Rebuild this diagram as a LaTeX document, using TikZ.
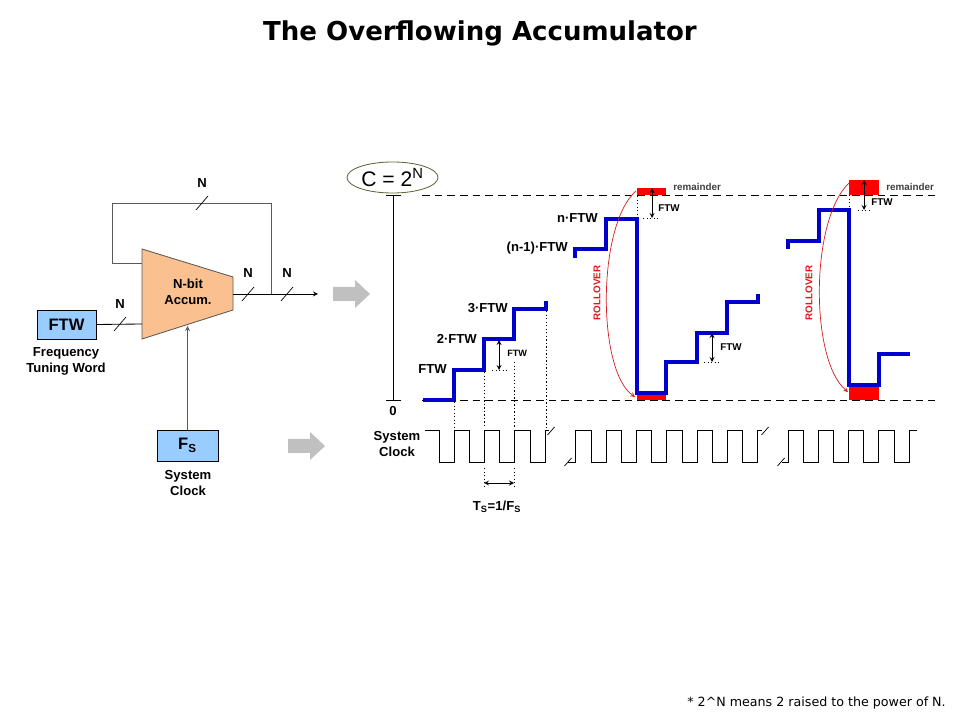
\documentclass[tikz,border=0pt]{standalone}
\usepackage{fontspec}
\setmainfont{Liberation Sans}
\newfontfamily\verdana{DejaVu Sans}
\usetikzlibrary{shapes.geometric}

\definecolor{azulftw}{RGB}{153,204,255}
\definecolor{melocoton}{RGB}{250,192,144}
\definecolor{grisflecha}{RGB}{192,192,192}
\definecolor{azulesc}{RGB}{0,0,204}
\definecolor{rojoroll}{RGB}{215,30,30}
\definecolor{oliva}{RGB}{95,105,55}
\definecolor{grislinea}{RGB}{90,90,90}

\tikzset{
  lbl/.style={font=\fontsize{9.3}{11.3}\selectfont\bfseries, inner sep=0pt},
  chico/.style={font=\fontsize{7}{8}\selectfont\bfseries, inner sep=0pt},
  caja/.style={draw=black, fill=azulftw, minimum width=1.475cm, minimum height=0.725cm,
    inner sep=0pt, font=\fontsize{11.8}{13}\selectfont\bfseries},
  escalera/.style={azulesc, line width=2.2pt},
  fino/.style={line width=0.6pt},
  punteado/.style={line width=0.5pt, dash pattern=on 1pt off 1.5pt},
  rayas/.style={line width=0.6pt, dash pattern=on 5.5pt off 3.5pt},
  bus/.pic={\draw[line width=0.5pt] (-6,7) -- (6,-7);},
  corte/.pic={\draw[line width=0.5pt] (-3.5,4) -- (3.5,-4);},
  flechagris/.pic={\fill[grisflecha] (0,-7) -- (22,-7) -- (22,-14) -- (37,0) -- (22,14) -- (22,7) -- (0,7) -- cycle;},
}

\begin{document}
\begin{tikzpicture}[>=stealth, x=0.025cm, y=-0.025cm]
  \useasboundingbox[fill=white] (0,0) rectangle (960,720);

  % Titulo
  \node[font=\verdana\fontsize{18.5}{22}\selectfont\bfseries] (titulo) at (480,33) {The Overflowing Accumulator};

  % Acumulador
  \filldraw[fill=melocoton, draw=grislinea, fino] (142,249) -- (233,277) -- (233,310) -- (142,339) -- cycle;
  \node[lbl, align=center] (accum) at (188,292) {N-bit\\Accum.};
  \coordinate (acc-in) at (142,324);
  \coordinate (acc-fb) at (142,263);
  \coordinate (acc-out) at (233,294);
  \coordinate (acc-clk) at (187.5,326);
  \coordinate (nodo) at (271,294);
  \coordinate (salida) at (318,294);

  % Entradas
  \node[caja] (ftw) at (66.5,324.5) {FTW};
  \node[lbl, align=center] (ftw-txt) at (66,361) {Frequency\\Tuning Word};
  \node[caja, minimum width=1.525cm, minimum height=0.775cm] (fs) at (187.5,445.5) {F\textsubscript{S}};
  \node[lbl, align=center] (fs-txt) at (188,483) {System\\Clock};

  % Conexiones
  \draw[fino] (ftw.east) -- (acc-in);
  \draw[fino, grislinea] (nodo) |- (112,203) |- (acc-fb);
  \draw[fino, ->] (acc-out) -- (salida);
  \draw[fino, grislinea, ->] (fs.north) -- (acc-clk);
  \pic at (202,203) {bus};
  \pic at (120,324) {bus};
  \pic at (248,294) {bus};
  \pic at (287,294) {bus};
  \node[lbl] (n-lazo) at (202,183) {N};
  \node[lbl] (n-ftw) at (120,304) {N};
  \node[lbl] (n-acc) at (248,273) {N};
  \node[lbl] (n-sal) at (287,273) {N};

  % Flechas grises
  \pic at (333,294) {flechagris};
  \pic at (288,446) {flechagris};

  % Eje y limites
  \node[ellipse, draw=oliva, fill=white, fino, minimum width=2.275cm, minimum height=0.775cm,
    inner sep=0pt, font=\fontsize{15}{17}\selectfont] (cmax) at (392.5,177.5) {C = 2\textsuperscript{N}};
  \draw[fino] (393,195) -- (393,400);
  \draw[fino] (386,195) -- (401,195);
  \draw[fino] (386,400) -- (401,400);
  \node[lbl] (cero) at (393,411) {0};
  \draw[rayas] (422,195) -- (935,195);
  \draw[rayas] (422,400) -- (935,400);

  % Restos
  \fill[red] (637,188) rectangle (666,195);
  \fill[red] (637,395) rectangle (666,400);
  \fill[red] (849,180) rectangle (879,195);
  \fill[red] (849,387) rectangle (879,400);

  % Escaleras
  \draw[escalera] (423,400) -- (454,400) -- (454,370) -- (484,370) -- (484,339) -- (514,339)
    -- (514,309) -- (546,309) -- (546,301);
  \draw[escalera] (575,258) -- (575,249) -- (606,249) -- (606,219) -- (637,219) -- (637,393)
    -- (666,393) -- (666,362) -- (697,362) -- (697,333) -- (727,333) -- (727,302) -- (758,302) -- (758,294);
  \draw[escalera] (788,249) -- (788,241) -- (819,241) -- (819,210) -- (849,210) -- (849,385)
    -- (879,385) -- (879,354) -- (910,354);

  % Etiquetas de nivel
  \node[lbl, anchor=east] (n1) at (447,369) {FTW};
  \node[lbl, anchor=east] (n2) at (477,339) {2·FTW};
  \node[lbl, anchor=east] (n3) at (508,308) {3·FTW};
  \node[lbl, anchor=east] (nm1) at (568,248) {(n-1)·FTW};
  \node[lbl, anchor=east] (nn) at (598,218) {n·FTW};

  % Cotas FTW
  \draw[fino, <->] (499,340) -- (499,370);
  \draw[punteado] (492,370) -- (508,370);
  \node[chico, anchor=west, font=\fontsize{6.5}{8}\selectfont\bfseries] (c1) at (507,353) {FTW};
  \draw[fino, <->] (697,333) ++(15,0) -- (712,362);
  \draw[punteado] (704,362) -- (720,362);
  \node[chico, anchor=west] (c2) at (720,347) {FTW};
  \draw[fino, <->] (652,188) -- (652,218);
  \draw[punteado] (637,196) -- (637,219);
  \draw[punteado] (643,218) -- (660,218);
  \node[chico, anchor=west] (c3) at (658,208) {FTW};
  \node[chico, anchor=west, text=black!75] (r1) at (673,187) {remainder};
  \draw[fino, <->] (864,180) -- (864,210);
  \draw[punteado] (849,195) -- (849,210);
  \draw[punteado] (858,210) -- (872,210);
  \node[chico, anchor=west] (c4) at (871,202) {FTW};
  \node[chico, anchor=west, text=black!75] (r2) at (886,187) {remainder};

  % Desbordes
  \draw[rojoroll, line width=0.5pt, ->] (636,191) .. controls (597,225) and (597,370) .. (635,397);
  \draw[rojoroll, line width=0.5pt, ->] (849,183) .. controls (810,220) and (810,360) .. (848,392);
  \node[chico, text=rojoroll, rotate=90] (roll1) at (597,293) {ROLLOVER};
  \node[chico, text=rojoroll, rotate=90] (roll2) at (809,293) {ROLLOVER};

  % Reloj
  \node[lbl, align=center] (clk-txt) at (397,444) {System\\Clock};
  \draw[fino] (425,430) foreach \r in {454,484.3,514.6,545} { -- (\r-15,430) -- (\r-15,462) -- (\r,462) -- (\r,430) } -- (549,430);
  \draw[fino] (568,462) -- (575.5,462) -- (575.5,430) foreach \r in {606,636,666.5,697,727,757.5} { -- (\r-15,430) -- (\r-15,462) -- (\r,462) -- (\r,430) } -- (762,430);
  \draw[fino] (782,462) -- (788,462) -- (788,430) foreach \r in {818,848,878.5,909} { -- (\r-15,430) -- (\r-15,462) -- (\r,462) -- (\r,430) } -- (917,430);
  \pic at (551,431) {corte};
  \pic at (568,462) {corte};
  \pic at (765,431) {corte};
  \pic at (781,462) {corte};
  \draw[punteado] (454,402) -- (454,428);
  \draw[punteado] (484,372) -- (484,428);
  \draw[punteado] (514,362) -- (514,428);
  \draw[punteado] (546,311) -- (546,428);

  % Periodo
  \draw[punteado] (484,468) -- (484,488);
  \draw[punteado] (514,468) -- (514,488);
  \draw[fino, <->] (484,483) -- (514,483);
  \node[lbl] (ts) at (497,507) {T\textsubscript{S}=1/F\textsubscript{S}};

  % Nota
  \node[anchor=east, inner sep=0pt, font=\verdana\fontsize{9}{11}\selectfont] (nota) at (946,703) {* 2\textasciicircum N means 2 raised to the power of N.};
\end{tikzpicture}
\end{document}
